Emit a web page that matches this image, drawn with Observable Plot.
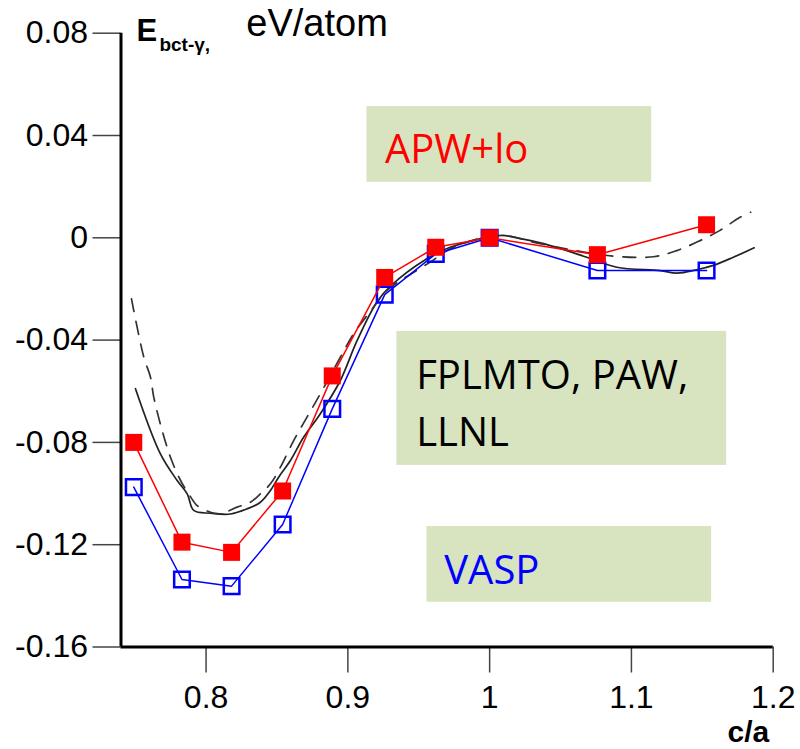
<!DOCTYPE html>
<html>
<head>
<meta charset="utf-8">
<script src="https://cdn.jsdelivr.net/npm/d3@7"></script>
<script src="https://cdn.jsdelivr.net/npm/@observablehq/plot@0.6"></script>
<style>
  body { margin: 0; background: #fff; }
</style>
</head>
<body>
<div id="chart"></div>
<script>
// c/a ratios of the computed bct cells
const ratio = [0.749, 0.783, 0.818, 0.854, 0.889, 0.926, 0.962, 1.0, 1.076, 1.153];
// E(bct) - E(gamma), eV/atom
const apwLo = [-0.080, -0.119, -0.123, -0.099, -0.054, -0.0155, -0.0037, 0, -0.0066, 0.0051];
const vasp  = [-0.0975, -0.1336, -0.1362, -0.1121, -0.0669, -0.0222, -0.0063, 0, -0.0128, -0.0128];

// FPLMTO / PAW / LLNL reference curves
const solidX = [0.7502, 0.7678, 0.7796, 0.7867, 0.7913, 0.8031, 0.8172, 0.8289, 0.8383, 0.8454,
                0.8512, 0.8595, 0.8688, 0.8806, 0.8947, 0.9065, 0.9206, 0.9299, 0.9557, 0.9722,
                1.0074, 1.0192, 1.0380, 1.0685, 1.0897, 1.1202, 1.1320, 1.1460, 1.1578, 1.1719, 1.1866];
const solidY = [-0.0590, -0.0845, -0.0949, -0.1001, -0.1066, -0.1077, -0.1080, -0.1060, -0.1034, -0.0988,
                -0.0936, -0.0871, -0.0780, -0.0688, -0.0558, -0.0402, -0.0250, -0.0190, -0.0082, -0.0037,
                0.0009, 0.0000, -0.0023, -0.0076, -0.0115, -0.0128, -0.0138, -0.0125, -0.0108, -0.0076, -0.0039];
const dashedX = [0.7474, 0.7561, 0.7608, 0.7631, 0.7690, 0.7749, 0.7820, 0.7890, 0.7937, 0.8031,
                 0.8101, 0.8219, 0.8313, 0.8383, 0.8454, 0.8524, 0.8618, 0.8712, 0.8806, 0.8947,
                 0.9041, 0.9182, 0.9276, 0.9581, 0.9745, 1.0074, 1.0356, 1.0826, 1.1155, 1.1320,
                 1.1484, 1.1625, 1.1760, 1.1841];
const dashedY = [-0.0239, -0.0467, -0.0545, -0.0623, -0.0753, -0.0858, -0.0949, -0.1012, -0.1047, -0.1073,
                 -0.1079, -0.1053, -0.1034, -0.1001, -0.0962, -0.0897, -0.0793, -0.0701, -0.0610, -0.0467,
                 -0.0375, -0.0271, -0.0206, -0.0095, -0.0037, 0.0009, -0.0023, -0.0069, -0.0074, -0.0050,
                 -0.0011, 0.0029, 0.0078, 0.0100];

const xTicks = [0.8, 0.9, 1, 1.1, 1.2];
const yTicks = [-0.16, -0.12, -0.08, -0.04, 0, 0.04, 0.08];

// method labels and their shaded boxes (data units)
const noteText = ["APW+lo", "FPLMTO, PAW,\nLLNL", "VASP"];
const noteColor = ["#ff0000", "#000000", "#0000ff"];

const boxes = [
  {x1: 0.9135, x2: 1.1143, y1: 0.0217, y2: 0.0513},
  {x1: 0.9346, x2: 1.1672, y1: -0.0890, y2: -0.0366},
  {x1: 0.9558, x2: 1.1566, y1: -0.1425, y2: -0.1129}
];
const notePos = [
  {x: 0.9262, y: 0.0292},
  {x: 0.9482, y: -0.0816},
  {x: 0.9680, y: -0.1353}
];
const notes = noteText.map((t, i) => ({text: t, color: noteColor[i], ...notePos[i]}));

const pts = (xs, ys) => xs.map((x, i) => ({x, y: ys[i]}));
const apwPts = pts(ratio, apwLo);
const vaspPts = pts(ratio, vasp);
const solidPts = pts(solidX, solidY);
const dashedPts = pts(dashedX, dashedY);

const font = "'Liberation Sans', Arial, sans-serif";

const chart = Plot.plot({
  width: 800,
  height: 749,
  marginLeft: 120.5,
  marginRight: 27.3,
  marginTop: 32.7,
  marginBottom: 102.5,
  style: {fontFamily: font, fontSize: "32px", background: "#fff", color: "#000"},
  x: {domain: [0.74, 1.2]},
  y: {domain: [-0.16, 0.08]},
  color: {type: "identity"},
  marks: [
    Plot.rect(boxes, {x1: "x1", x2: "x2", y1: "y1", y2: "y2", fill: "#d8e4bf"}),

    Plot.line(solidPts, {x: "x", y: "y", stroke: "#222", strokeWidth: 1.7, curve: "catmull-rom"}),
    Plot.line(dashedPts, {x: "x", y: "y", stroke: "#333", strokeWidth: 1.7, strokeDasharray: "13,10", curve: "catmull-rom"}),

    Plot.line(vaspPts, {x: "x", y: "y", stroke: "#0000ff", strokeWidth: 1.5}),
    Plot.dot(vaspPts, {x: "x", y: "y", symbol: "square", r: 8.8, fill: "none", stroke: "#0000ff", strokeWidth: 2.5}),

    Plot.line(apwPts, {x: "x", y: "y", stroke: "#ff0000", strokeWidth: 1.5}),
    Plot.dot(apwPts, {x: "x", y: "y", symbol: "square", r: 9.6, fill: "#ff0000", stroke: "none"}),

    Plot.text(notes, {x: "x", y: "y", text: "text", fill: "color", textAnchor: "start",
      lineAnchor: "bottom", lineHeight: 1.44, fontSize: 40, fontFamily: "'Open Sans', sans-serif"}),

    // axis title: E_bct-γ, eV/atom
    Plot.text(["E"], {x: [0.7509], y: [0.0768], text: d => d, textAnchor: "start", lineAnchor: "bottom",
      fontSize: 31, fontWeight: "bold", fontFamily: font}),
    Plot.text(["bct-γ,"], {x: [0.7671], y: [0.0732], text: d => d, textAnchor: "start", lineAnchor: "bottom",
      fontSize: 19, fontWeight: "bold", fontFamily: font}),
    Plot.text(["eV/atom"], {x: [0.8284], y: [0.0789], text: d => d, textAnchor: "start", lineAnchor: "bottom",
      fontSize: 38, fontFamily: font}),
    Plot.text(["c/a"], {x: [1.2], y: [-0.1973], text: d => d, textAnchor: "end", dx: -4, lineAnchor: "bottom",
      fontSize: 30, fontWeight: "bold", fontFamily: font}),

    Plot.axisY(yTicks, {tickSize: 28, tickPadding: 5, stroke: "#444", strokeWidth: 1.5,
      fontSize: 32, label: null, tickFormat: d => String(d)}),
    Plot.axisX(xTicks, {tickSize: 26, tickPadding: 12, stroke: "#444", strokeWidth: 1.5,
      fontSize: 32, label: null, tickFormat: d => String(d)}),

    Plot.ruleX([0.74], {y1: -0.16, y2: 0.08, stroke: "#000", strokeWidth: 3}),
    Plot.ruleY([-0.16], {x1: 0.74, x2: 1.2, stroke: "#000", strokeWidth: 3})
  ]
});

document.getElementById("chart").append(chart);
</script>
</body>
</html>
